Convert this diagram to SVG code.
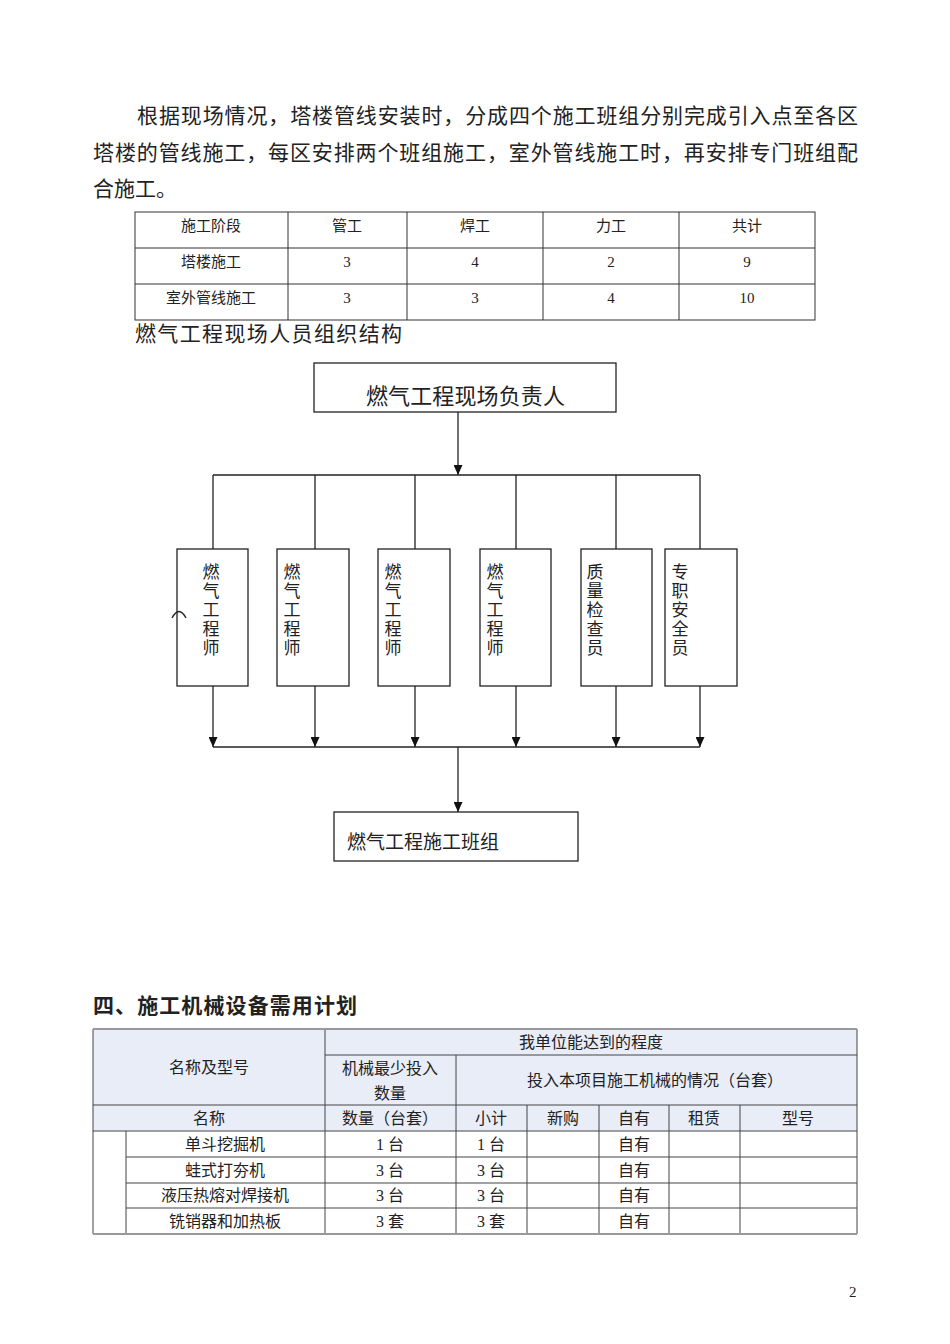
<svg xmlns="http://www.w3.org/2000/svg" width="950" height="1344" viewBox="0 0 950 1344">
<style>
.t{font-family:"Liberation Serif","Noto Sans CJK SC",serif;fill:#222}
.p{font-size:21px}
.c{text-anchor:middle}
.s15{font-size:15px}
.s16{font-size:16px}
.s17{font-size:17px}
.s19{font-size:19px}
.s21{font-size:21px}
.s22{font-size:22px}
.b{font-weight:bold}
.box{fill:#fff;stroke:#222;stroke-width:1.3}
.ln{stroke:#222;stroke-width:1.3;fill:none}
.tl{stroke:#333;stroke-width:1;fill:none}
.gl{stroke:#444;stroke-width:1;fill:none}
</style>
<defs>
<marker id="ah" markerWidth="10" markerHeight="9" refX="10" refY="4.5" orient="auto" markerUnits="userSpaceOnUse">
<path d="M0,0 L10,4.5 L0,9 z" fill="#111"/>
</marker>
</defs>
<rect width="950" height="1344" fill="#fff"/>

<g id="paragraph">
<text class="t p" x="137" y="123" textLength="721" lengthAdjust="spacing">根据现场情况，塔楼管线安装时，分成四个施工班组分别完成引入点至各区</text>
<text class="t p" x="93" y="160" textLength="765" lengthAdjust="spacing">塔楼的管线施工，每区安排两个班组施工，室外管线施工时，再安排专门班组配</text>
<text class="t p" x="93" y="196">合施工。</text>
</g>

<g id="staff-table">
<rect class="tl" x="135" y="212" width="680" height="108"/>
<path class="tl" d="M135,248H815M135,284H815M288,212V320M407,212V320M543,212V320M679,212V320"/>
<g class="t s15 c">
<text x="211" y="231">施工阶段</text>
<text x="347" y="231">管工</text>
<text x="475" y="231">焊工</text>
<text x="611" y="231">力工</text>
<text x="747" y="231">共计</text>
<text x="211" y="267">塔楼施工</text>
<text x="347" y="267">3</text>
<text x="475" y="267">4</text>
<text x="611" y="267">2</text>
<text x="747" y="267">9</text>
<text x="211" y="303">室外管线施工</text>
<text x="347" y="303">3</text>
<text x="475" y="303">3</text>
<text x="611" y="303">4</text>
<text x="747" y="303">10</text>
</g>
</g>

<text class="t s21" x="135" y="341" textLength="267" lengthAdjust="spacing">燃气工程现场人员组织结构</text>

<g id="connectors">
<line class="ln" x1="458" y1="412" x2="458" y2="475" marker-end="url(#ah)"/>
<path class="ln" d="M213,475H700M213,475V549M315,475V549M415,475V549M516,475V549M616,475V549M700,475V549"/>
<line class="ln" x1="213" y1="686" x2="213" y2="747" marker-end="url(#ah)"/>
<line class="ln" x1="315" y1="686" x2="315" y2="747" marker-end="url(#ah)"/>
<line class="ln" x1="415" y1="686" x2="415" y2="747" marker-end="url(#ah)"/>
<line class="ln" x1="516" y1="686" x2="516" y2="747" marker-end="url(#ah)"/>
<line class="ln" x1="616" y1="686" x2="616" y2="747" marker-end="url(#ah)"/>
<line class="ln" x1="700" y1="686" x2="700" y2="747" marker-end="url(#ah)"/>
<path class="ln" d="M213,747H700"/>
<line class="ln" x1="458" y1="747" x2="458" y2="812" marker-end="url(#ah)"/>
</g>

<g id="n-head">
<rect class="box" x="314" y="363" width="302" height="49"/>
<text class="t s22" x="366" y="404" textLength="199" lengthAdjust="spacing">燃气工程现场负责人</text>
</g>

<g id="n-eng1">
<rect class="box" x="177" y="549" width="71" height="137"/>
<text class="t s17 c"><tspan x="211" y="578">燃</tspan><tspan x="211" dy="19">气</tspan><tspan x="211" dy="19">工</tspan><tspan x="211" dy="19">程</tspan><tspan x="211" dy="19">师</tspan></text>
<path class="ln" d="M172,618 Q179,605 186,618" stroke-width="1"/>
</g>
<g id="n-eng2">
<rect class="box" x="277" y="549" width="72" height="137"/>
<text class="t s17 c"><tspan x="292" y="578">燃</tspan><tspan x="292" dy="19">气</tspan><tspan x="292" dy="19">工</tspan><tspan x="292" dy="19">程</tspan><tspan x="292" dy="19">师</tspan></text>
</g>
<g id="n-eng3">
<rect class="box" x="378" y="549" width="72" height="137"/>
<text class="t s17 c"><tspan x="393" y="578">燃</tspan><tspan x="393" dy="19">气</tspan><tspan x="393" dy="19">工</tspan><tspan x="393" dy="19">程</tspan><tspan x="393" dy="19">师</tspan></text>
</g>
<g id="n-eng4">
<rect class="box" x="480" y="549" width="71" height="137"/>
<text class="t s17 c"><tspan x="495" y="578">燃</tspan><tspan x="495" dy="19">气</tspan><tspan x="495" dy="19">工</tspan><tspan x="495" dy="19">程</tspan><tspan x="495" dy="19">师</tspan></text>
</g>
<g id="n-quality">
<rect class="box" x="581" y="549" width="71" height="137"/>
<text class="t s17 c"><tspan x="595" y="578">质</tspan><tspan x="595" dy="19">量</tspan><tspan x="595" dy="19">检</tspan><tspan x="595" dy="19">查</tspan><tspan x="595" dy="19">员</tspan></text>
</g>
<g id="n-safety">
<rect class="box" x="665" y="549" width="72" height="137"/>
<text class="t s17 c"><tspan x="680" y="578">专</tspan><tspan x="680" dy="19">职</tspan><tspan x="680" dy="19">安</tspan><tspan x="680" dy="19">全</tspan><tspan x="680" dy="19">员</tspan></text>
</g>

<g id="n-team">
<rect class="box" x="334" y="812" width="244" height="49"/>
<text class="t s19" x="347" y="849" textLength="152" lengthAdjust="spacing">燃气工程施工班组</text>
</g>

<text class="t s21 b" x="93" y="1013" textLength="264" lengthAdjust="spacing">四、施工机械设备需用计划</text>

<g id="equipment-table">
<rect x="93" y="1029" width="764" height="102" fill="#e8edf8"/>
<path class="gl" d="M325,1055H857M93,1105H857M93,1131H857M126,1157H857M126,1183H857M126,1208H857"/>
<path class="gl" d="M93,1029V1234M857,1029V1234M325,1029V1234M456,1055V1234M527,1105V1234M599,1105V1234M669,1105V1234M740,1105V1234M126,1131V1234"/>
<path d="M93,1029H857M93,1234H857" stroke="#999" stroke-width="2" fill="none"/>
<g class="t s16 c">
<text x="591" y="1048">我单位能达到的程度</text>
<text x="209" y="1073">名称及型号</text>
<text x="390" y="1074">机械最少投入</text>
<text x="390" y="1099">数量</text>
<text x="655" y="1086">投入本项目施工机械的情况（台套）</text>
<text x="209" y="1124">名称</text>
<text x="390" y="1124">数量（台套）</text>
<text x="491" y="1124">小计</text>
<text x="563" y="1124">新购</text>
<text x="634" y="1124">自有</text>
<text x="704" y="1124">租赁</text>
<text x="798" y="1124">型号</text>
<text x="225" y="1150">单斗挖掘机</text>
<text x="390" y="1150">1 台</text>
<text x="491" y="1150">1 台</text>
<text x="634" y="1150">自有</text>
<text x="225" y="1176">蛙式打夯机</text>
<text x="390" y="1176">3 台</text>
<text x="491" y="1176">3 台</text>
<text x="634" y="1176">自有</text>
<text x="225" y="1201">液压热熔对焊接机</text>
<text x="390" y="1201">3 台</text>
<text x="491" y="1201">3 台</text>
<text x="634" y="1201">自有</text>
<text x="225" y="1227">铣销器和加热板</text>
<text x="390" y="1227">3 套</text>
<text x="491" y="1227">3 套</text>
<text x="634" y="1227">自有</text>
</g>
</g>

<text class="t s15" x="849" y="1297">2</text>
</svg>
